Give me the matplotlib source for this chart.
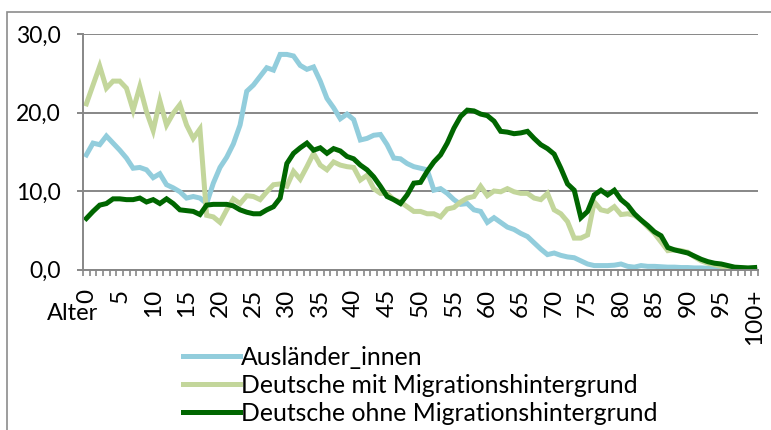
import matplotlib
matplotlib.use("Agg")
import matplotlib.pyplot as plt
from matplotlib.patches import Rectangle
import numpy as np

ages = list(range(101))
tick_labels = [str(a) if a < 100 else "100+" for a in range(0, 101, 5)]

auslaender = [
    14.6, 16.1, 15.9, 17.0, 16.1, 15.2, 14.2, 12.9, 13.0, 12.7,
    11.7, 12.2, 10.8, 10.4, 9.9, 9.1, 9.3, 9.1, 8.4, 11.0,
    13.0, 14.3, 16.0, 18.4, 22.7, 23.5, 24.6, 25.7, 25.4, 27.4,
    27.4, 27.2, 26.0, 25.5, 25.8, 24.0, 21.8, 20.6, 19.2, 19.8,
    19.1, 16.5, 16.7, 17.1, 17.2, 15.9, 14.2, 14.1, 13.5, 13.1,
    12.9, 12.7, 10.1, 10.3, 9.7, 8.9, 8.3, 8.4, 7.6, 7.4,
    6.0, 6.6, 6.0, 5.4, 5.1, 4.6, 4.2, 3.4, 2.6, 1.9,
    2.1, 1.8, 1.6, 1.5, 1.1, 0.7, 0.5, 0.5, 0.5, 0.55,
    0.7, 0.4, 0.3, 0.5, 0.4, 0.4, 0.35, 0.3, 0.3, 0.25,
    0.25, 0.2, 0.2, 0.15, 0.1, 0.1, 0.05, 0.05, 0.02, 0.01,
    0.0,
]

mit_migration = [
    21.1, 23.5, 25.9, 23.1, 24.0, 24.0, 23.1, 20.3, 23.3, 20.1,
    17.7, 21.5, 18.4, 19.9, 21.0, 18.4, 16.7, 17.9, 6.9, 6.7,
    6.0, 7.6, 9.0, 8.4, 9.4, 9.3, 8.9, 9.9, 10.8, 10.9,
    10.6, 12.5, 11.5, 13.1, 14.8, 13.3, 12.7, 13.7, 13.3, 13.1,
    13.0, 11.4, 12.0, 10.3, 9.7, 9.7, 8.9, 8.6, 8.0, 7.4,
    7.4, 7.1, 7.1, 6.7, 7.7, 7.9, 8.6, 9.1, 9.3, 10.6,
    9.4, 10.0, 9.9, 10.3, 9.9, 9.7, 9.7, 9.1, 8.9, 9.7,
    7.6, 7.1, 6.1, 4.0, 4.0, 4.4, 8.6, 7.6, 7.4, 8.0,
    7.0, 7.1, 6.9, 6.3, 5.4, 4.6, 3.5, 2.4, 2.5, 2.4,
    2.2, 1.6, 1.1, 0.8, 0.6, 0.4, 0.3, 0.2, 0.15, 0.1,
    0.05,
]

ohne_migration = [
    6.5, 7.4, 8.2, 8.4, 9.0, 9.0, 8.9, 8.9, 9.1, 8.6,
    8.9, 8.4, 9.0, 8.4, 7.6, 7.5, 7.4, 7.0, 8.2, 8.3,
    8.3, 8.3, 8.1, 7.6, 7.3, 7.1, 7.1, 7.6, 8.0, 9.1,
    13.5, 14.8, 15.5, 16.1, 15.2, 15.5, 14.8, 15.4, 15.1, 14.4,
    14.1, 13.3, 12.7, 11.8, 10.6, 9.3, 8.9, 8.4, 9.5, 11.0,
    11.1, 12.5, 13.7, 14.6, 16.1, 18.0, 19.5, 20.3, 20.2, 19.8,
    19.6, 18.9, 17.6, 17.5, 17.3, 17.4, 17.6, 16.7, 15.9, 15.4,
    14.7, 12.9, 10.9, 10.1, 6.6, 7.4, 9.5, 10.1, 9.5, 10.1,
    8.9, 8.2, 7.1, 6.3, 5.6, 4.8, 4.3, 2.8, 2.5, 2.3,
    2.1, 1.7, 1.3, 1.0, 0.8, 0.7, 0.5, 0.3, 0.25, 0.2,
    0.25,
]

series_names = ["Ausländer_innen", "Deutsche mit Migrationshintergrund",
                "Deutsche ohne Migrationshintergrund"]
colors = ["#92CDDC", "#C3D69B", "#006600"]

plt.rcParams["font.family"] = ["Lato", "DejaVu Sans"]
grey = "#878787"

fig = plt.figure(figsize=(7.71, 4.30), dpi=100)
ax = fig.add_axes([83 / 771, 1 - 269.5 / 430, 675 / 771, 235.5 / 430])

for vals, name, c in zip([auslaender, mit_migration, ohne_migration], series_names, colors):
    ax.plot(ages, vals, color=c, lw=3.6, label=name, solid_joinstyle="miter")

ax.set_xlim(-0.5, 100.5)
ax.set_ylim(0, 30)
ax.set_yticks([0, 10, 20, 30])
ax.set_yticklabels(["0,0", "10,0", "20,0", "30,0"])
ax.yaxis.grid(True, color=grey, lw=1.4)
ax.set_axisbelow(True)

ax.set_xticks(range(0, 101, 5))
ax.set_xticklabels(tick_labels, rotation=90, va="top", ha="center")
ax.set_xticks(np.arange(-0.5, 101, 1), minor=True)
ax.tick_params(axis="x", which="major", length=0, pad=14, labelsize=17.5)
ax.tick_params(axis="x", which="minor", length=4, width=1.2, color=grey, direction="out")
ax.tick_params(axis="y", length=4, width=1.4, color=grey, pad=12, labelsize=16.5)

for s in ["top", "right"]:
    ax.spines[s].set_visible(False)
for s in ["left", "bottom"]:
    ax.spines[s].set_color(grey)
    ax.spines[s].set_linewidth(1.4)

# axis title sits below-left of the category labels, like in the original
fig.text(73 / 771, 1 - 314 / 430, "Alter", ha="center", va="center", fontsize=17)

fig.patches.append(Rectangle((7 / 771, -0.1), 1.2, 1 - 12 / 430 + 0.1,
                             transform=fig.transFigure, fill=False,
                             edgecolor="#8c8c8c", lw=1.2))

fig.legend(loc="upper left", bbox_to_anchor=(183 / 771, 1 - 346 / 430),
           frameon=False, fontsize=17.8, handlelength=2.3, handletextpad=0.05,
           labelspacing=0.2, borderpad=0, borderaxespad=0)

fig.savefig("out.png", dpi=100)
